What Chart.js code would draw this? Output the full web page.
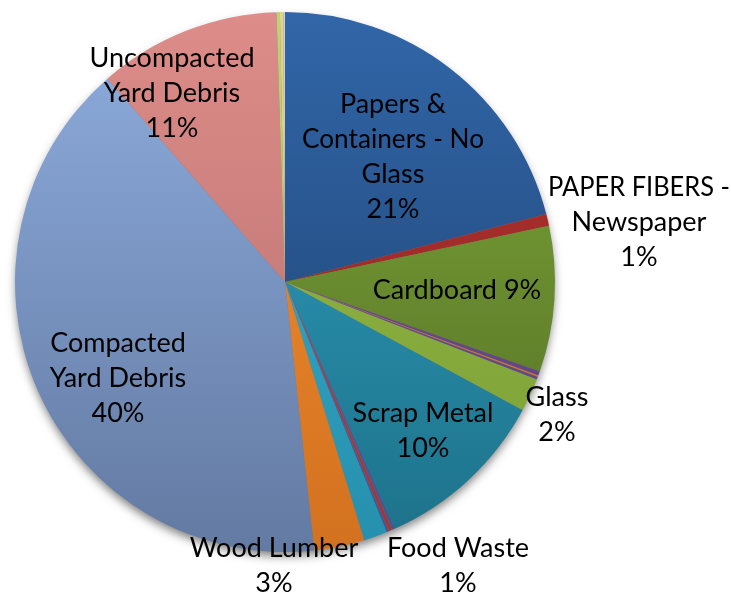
<!DOCTYPE html>
<html>
<head>
<meta charset="utf-8">
<script src="https://cdn.jsdelivr.net/npm/chart.js@4.4.0/dist/chart.umd.min.js"></script>
<style>
  html, body { margin: 0; padding: 0; background: #fff; }
  #wrap { position: relative; width: 731px; height: 598px; }
</style>
</head>
<body>
<div id="wrap"><canvas id="chart"></canvas></div>
<script>
// Waste composition, clockwise from 12 o'clock (percent of total)
const categories = [
  'Papers & Containers - No Glass', 'PAPER FIBERS - Newspaper', 'Cardboard',
  '', '', '', 'Glass', 'Scrap Metal', '', '', '', 'Food Waste', 'Wood Lumber',
  'Compacted Yard Debris', 'Uncompacted Yard Debris', '', '', '',
];
const shares = [
  20.9, 0.7, 8.7, 0.25, 0.1, 0.15, 2.0, 10.4, 0.2, 0.2, 0.15, 1.4, 3.0,
  40.2, 10.9, 0.2, 0.2, 0.1,
];
// how each slice's name wraps in its label (null = no label)
const labelLines = [
  ['Papers &', 'Containers - No', 'Glass'], ['PAPER FIBERS -', 'Newspaper'], ['Cardboard'],
  null, null, null, ['Glass'], ['Scrap Metal'], null, null, null, ['Food Waste'], ['Wood Lumber'],
  ['Compacted', 'Yard Debris'], ['Uncompacted', 'Yard Debris'], null, null, null,
];

// [top, bottom] gradient stops per slice
const sliceColors = [
  ['#3166a8', '#1d3f6c'], ['#b3322f', '#8c2523'], ['#80ab3a', '#526b24'],
  ['#70539a', '#5a417c'], ['#e07f30', '#c06a24'], ['#70539a', '#5a417c'],
  ['#98c048', '#7a9c34'], ['#31a3c4', '#1d7189'], ['#4a6fb5', '#3a5a94'],
  ['#c8423d', '#a6332f'], ['#4a6fb5', '#3a5a94'], ['#3ab0d0', '#2590ad'],
  ['#f79234', '#d2711f'], ['#8eadde', '#637aa2'], ['#dd8c89', '#b46f6c'],
  ['#b9d47c', '#a3bd68'], ['#ecd27a', '#d2b864'], ['#c9d2dc', '#b0bac4'],
];

// [x, y] of the first label line, and whether the percent shares that line
const labelSpots = {
  0: [393, 104], 1: [639, 187], 2: [457, 290, true], 6: [557, 397], 7: [423, 413],
  11: [458, 548], 12: [274, 548], 13: [118, 343], 14: [172, 58],
};
const LINE = 35;
const FONT = '27px Lato';
const MAX_LINE_WIDTH = 182;

const total = shares.reduce((a, b) => a + b, 0);
const gradientCache = {};

function sliceFill(context) {
  const i = context.dataIndex;
  const area = context.chart.chartArea;
  if (!area) return sliceColors[i][0];
  if (!gradientCache[i]) {
    const g = context.chart.ctx.createLinearGradient(0, area.top, 0, area.bottom);
    g.addColorStop(0, sliceColors[i][0]);
    g.addColorStop(1, sliceColors[i][1]);
    gradientCache[i] = g;
  }
  return gradientCache[i];
}

// soft drop shadow under the whole pie
const pieShadow = {
  id: 'pieShadow',
  beforeDatasetsDraw(chart) {
    const arc = chart.getDatasetMeta(0).data[0];
    if (!arc) return;
    const ctx = chart.ctx;
    ctx.save();
    ctx.shadowColor = 'rgba(0, 0, 0, 0.5)';
    ctx.shadowBlur = 10;
    ctx.shadowOffsetY = 5;
    ctx.fillStyle = '#777';
    ctx.beginPath();
    ctx.arc(arc.x, arc.y, arc.outerRadius - 1, 0, Math.PI * 2);
    ctx.fill();
    ctx.restore();
  },
};

const sliceLabels = {
  id: 'sliceLabels',
  afterDatasetsDraw(chart) {
    const ctx = chart.ctx;
    ctx.save();
    ctx.font = FONT;
    ctx.fillStyle = '#000';
    ctx.textAlign = 'center';
    ctx.textBaseline = 'middle';
    Object.entries(labelSpots).forEach(([key, spot]) => {
      const i = Number(key);
      const pct = Math.round(shares[i] / total * 100) + '%';
      const lines = spot[2]
        ? [labelLines[i].join(' ') + ' ' + pct]
        : [...labelLines[i], pct];
      lines.forEach((line, k) =>
        ctx.fillText(line, spot[0], spot[1] + k * LINE, MAX_LINE_WIDTH));
    });
    ctx.restore();
  },
};

new Chart(document.getElementById('chart'), {
  type: 'pie',
  data: {
    labels: categories,
    datasets: [{
      data: shares,
      backgroundColor: sliceFill,
      borderWidth: 0,
    }],
  },
  options: {
    responsive: true,
    maintainAspectRatio: false,
    animation: false,
    layout: { padding: { left: 15, top: 12, right: 176, bottom: 46 } },
    plugins: {
      legend: { display: false },
      tooltip: { enabled: false },
    },
  },
  plugins: [pieShadow, sliceLabels],
});
</script>
</body>
</html>
